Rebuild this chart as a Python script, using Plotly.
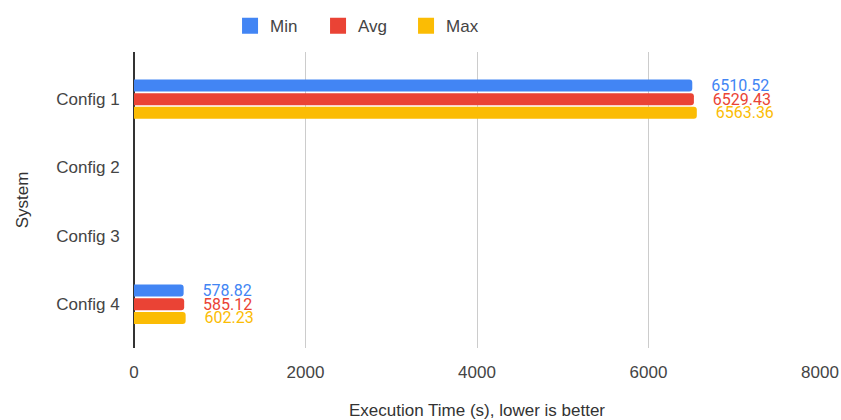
import plotly.graph_objects as go

# Execution time per configuration (seconds)
systems = ["Config 1", "Config 2", "Config 3", "Config 4"]
min_time = [6510.52, None, None, 578.82]
avg_time = [6529.43, None, None, 585.12]
max_time = [6563.36, None, None, 602.23]

series = [
    ("Min", min_time, "#4285F4"),
    ("Avg", avg_time, "#EA4335"),
    ("Max", max_time, "#FBBC04"),
]

x_ticks = [0, 2000, 4000, 6000, 8000]

fig = go.Figure()
for name, values, color in series:
    fig.add_trace(go.Bar(
        y=systems,
        x=values,
        orientation="h",
        name=name,
        marker=dict(color=color, line=dict(width=0)),
        text=values,
        texttemplate="    %{x:.2f}",
        textposition="outside",
        constraintext="none",
        cliponaxis=False,
        textfont=dict(color=color, size=16, family="Roboto"),
        showlegend=False,
    ))

# Square legend swatches
for name, _, color in series:
    fig.add_trace(go.Scatter(
        x=[None], y=[None], mode="markers", name=name,
        marker=dict(symbol="square", size=16, color=color),
        showlegend=True,
    ))

fig.update_layout(
    width=841, height=420,
    margin=dict(l=134, r=21, t=52, b=72, autoexpand=False),
    paper_bgcolor="white",
    plot_bgcolor="white",
    barmode="group",
    bargap=0.4,
    bargroupgap=0.12,
    barcornerradius=3,
    uniformtext=dict(mode=False),
    font=dict(family="Arial", size=17, color="#444"),
    legend=dict(
        orientation="h",
        x=0.14, xanchor="left",
        y=1.087, yanchor="middle",
        font=dict(size=17, color="#444"),
        itemwidth=30,
        entrywidth=43,
        entrywidthmode="pixels",
        tracegroupgap=0,
    ),
    xaxis=dict(
        range=[0, 8000],
        tickvals=x_ticks,
        ticktext=[str(v) for v in x_ticks],
        automargin=False,
        showgrid=True,
        gridcolor="#cccccc",
        gridwidth=1,
        zeroline=True,
        zerolinecolor="#333333",
        zerolinewidth=1.5,
        ticks="outside",
        ticklen=9,
        tickcolor="rgba(0,0,0,0)",
        showline=False,
        title=dict(text="Execution Time (s), lower is better", standoff=28,
                   font=dict(size=17, color="#333")),
    ),
    yaxis=dict(
        type="category",
        categoryorder="array",
        categoryarray=systems,
        range=[3.64, -0.69],
        automargin=False,
        showgrid=False,
        ticks="outside",
        ticklen=10,
        tickcolor="rgba(0,0,0,0)",
        title=dict(text="System", standoff=23, font=dict(size=17, color="#333")),
    ),
)

fig.write_html("out.html")
